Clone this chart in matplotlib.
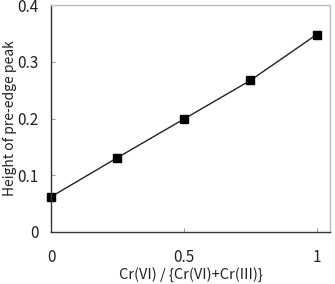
import matplotlib
matplotlib.use("Agg")
import matplotlib.pyplot as plt

plt.rcParams['font.family'] = ['Noto Sans CJK JP', 'DejaVu Sans']

x_vals = [0, 0.25, 0.5, 0.75, 1.0]
y_vals = [0.062, 0.131, 0.199, 0.267, 0.348]
x_ticks = [0, 0.5, 1]
x_tick_labels = ["0", "0.5", "1"]
y_ticks = [0, 0.1, 0.2, 0.3, 0.4]
y_tick_labels = ["0", "0.1", "0.2", "0.3", "0.4"]

fig = plt.figure(figsize=(3.35, 2.84), dpi=100)
ax = fig.add_axes([51/335, 1 - 232/284, (330-51)/335, (232-5)/284])
ax.plot(x_vals, y_vals, color='#222222', lw=1.0, marker='s', ms=6,
        mfc='black', mec='black', clip_on=False)
ax.set_xlim(0, 1.05)
ax.set_ylim(0, 0.4)
ax.set_xticks(x_ticks)
ax.set_xticklabels(x_tick_labels)
ax.set_yticks(y_ticks)
ax.set_yticklabels(y_tick_labels)
ax.tick_params(direction='in', length=3, width=0.6, color='#888888',
               labelsize=11, labelcolor='#222222')
ax.tick_params(axis='x', pad=12)
ax.tick_params(axis='y', pad=9)
for s in ['left', 'bottom']:
    ax.spines[s].set_color('#333333')
    ax.spines[s].set_linewidth(1.0)
for s in ['top', 'right']:
    ax.spines[s].set_color('#bbbbbb')
    ax.spines[s].set_linewidth(1.0)
ax.set_xlabel("Cr(VI) / {Cr(VI)+Cr(III)}", fontsize=10.5, labelpad=1, color='#222222')
fig.text(3/335, 1 - 118/284, "Height of pre-edge peak", rotation=90,
         ha='left', va='center', fontsize=10, color='#222222')
fig.savefig("out.png", dpi=100)
